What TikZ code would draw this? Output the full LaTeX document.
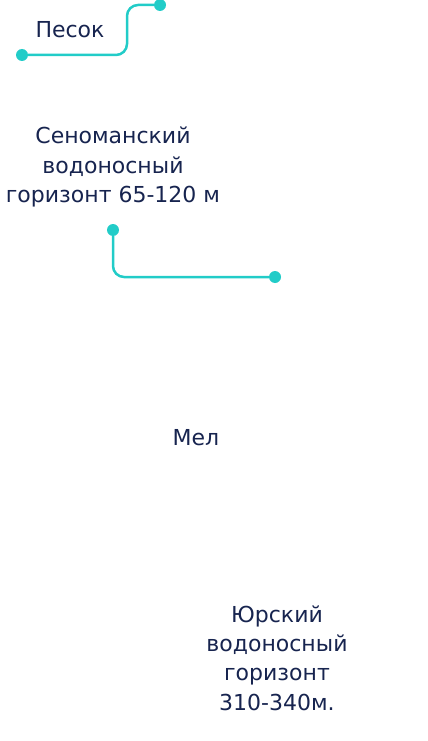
\documentclass[tikz,border=0pt]{standalone}
\usepackage{fontspec}
\setmainfont{DejaVu Sans}
\usetikzlibrary{positioning,calc}
\definecolor{lyNavy}{HTML}{17244F}
\definecolor{lyTeal}{HTML}{22CCC8}

\begin{document}
\begin{tikzpicture}[x=1pt, y=-1pt,
  lbl/.style={align=center, text=lyNavy, font=\fontsize{22}{29.3}\selectfont, inner sep=0pt},
  pin/.style={circle, fill=lyTeal, inner sep=0pt, minimum size=12pt},
  lnk/.style={lyTeal, line width=2.5pt, rounded corners=11pt}]
\useasboundingbox (0,0) rectangle (428,741);
\node[lbl] (sand) at (70,30) {Песок};
\node[lbl] (ceno) at (113,167) {Сеноманский\\водоносный\\горизонт 65-120 м};
\node[lbl] (chalk) at (196,438) {Мел};
\node[lbl] (jura) at (277,658) {Юрский\\водоносный\\горизонт\\310-340м.};
% leader lines
\node[pin] (p1) at (22,55) {};
\node[pin] (p2) at (160,5) {};
\coordinate (k1) at (127,30);
\draw[lnk] (p1) -| (k1) |- (p2);
\node[pin] (p3) at (113,230) {};
\node[pin] (p4) at (275,277) {};
\draw[lnk] (p3) |- (p4);
\end{tikzpicture}
\end{document}
